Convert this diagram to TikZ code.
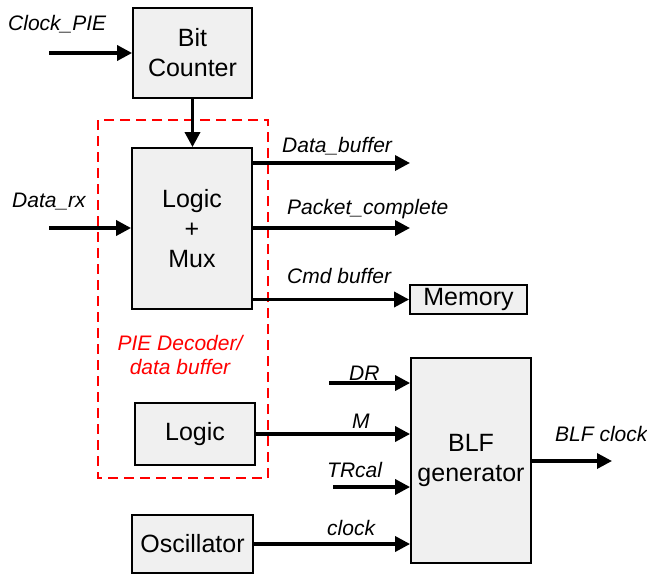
\documentclass[tikz,border=0pt]{standalone}
\usepackage{fontspec}
\setmainfont{Liberation Sans}
\usetikzlibrary{arrows.meta}
\definecolor{boxfill}{HTML}{F0F0F0}
\begin{document}
\begin{tikzpicture}[x=1pt,y=-1pt,
  block/.style={draw=black,line width=1.8pt,fill=boxfill,inner sep=0pt,
    align=center,font=\fontsize{25}{30}\selectfont},
  arr/.style={line width=3.4pt,-{Triangle[length=15pt,width=15pt]}},
  sig/.style={font=\fontsize{21}{25}\selectfont\itshape,inner sep=0pt},
  group/.style={draw=red,line width=1.6pt,dash pattern=on 10pt off 6pt}]
\useasboundingbox (0,0) rectangle (647,579);

% dashed group around the decoder
\draw[group] (98,120) rectangle (268,478);
\node[sig,text=red,align=center,font=\fontsize{21}{24}\selectfont\itshape,anchor=base]
  (grp) at (180,374) {PIE Decoder/\\data buffer};

% blocks
\node[block,minimum width=119pt,minimum height=90pt] (bit) at (192.5,53) {Bit\\Counter};
\node[block,minimum width=120pt,minimum height=161pt] (mux) at (192,228.5) {Logic\\+\\Mux};
\node[block,minimum width=117pt,minimum height=29pt] (mem) at (468.5,299.5) {Memory};
\node[block,minimum width=120pt,minimum height=62pt] (logic) at (195,434) {Logic};
\node[block,minimum width=120pt,minimum height=205pt] (blf) at (471,460.5) {BLF\\generator};
\node[block,minimum width=121pt,minimum height=58pt] (osc) at (192.5,544) {Oscillator};

% free ends of the signal lines
\coordinate (clkin) at (49,53);
\coordinate (rxin) at (49,228);
\coordinate (dbout) at (410,163);
\coordinate (pcout) at (410,228);
\coordinate (drin) at (329,383);
\coordinate (trin) at (333,487);
\coordinate (blfout) at (612,461);

% connectors
\draw[arr] (clkin) -- (clkin -| bit.west);
\draw[arr] (rxin) -- (rxin -| mux.west);
\draw[arr] (bit.south) -- (bit.south |- mux.north);
\draw[arr] (dbout -| mux.east) -- (dbout);
\draw[arr] (pcout -| mux.east) -- (pcout);
\draw[arr] (mem.west -| mux.east) -- (mem.west);
\draw[arr] (drin) -- (drin -| blf.west);
\draw[arr] (logic.east) -- (logic.east -| blf.west);
\draw[arr] (trin) -- (trin -| blf.west);
\draw[arr] (osc.east) -- (osc.east -| blf.west);
\draw[arr] (blf.east |- blfout) -- (blfout);

% signal labels
\node[sig,anchor=base west] (lclk) at (8,30) {Clock\_PIE};
\node[sig,anchor=base west] (lrx) at (12,207) {Data\_rx};
\node[sig,anchor=base west] (ldb) at (282,152) {Data\_buffer};
\node[sig,anchor=base west] (lpc) at (287,214) {Packet\_complete};
\node[sig,anchor=base west] (lcmd) at (287,283) {Cmd buffer};
\node[sig,anchor=base west] (ldr) at (349,380) {DR};
\node[sig,anchor=base west] (lm) at (352,428) {M};
\node[sig,anchor=base west] (ltr) at (327,477) {TRcal};
\node[sig,anchor=base west] (lck) at (327,535) {clock};
\node[sig,anchor=base west] (lblf) at (555,441) {BLF clock};
\end{tikzpicture}
\end{document}
